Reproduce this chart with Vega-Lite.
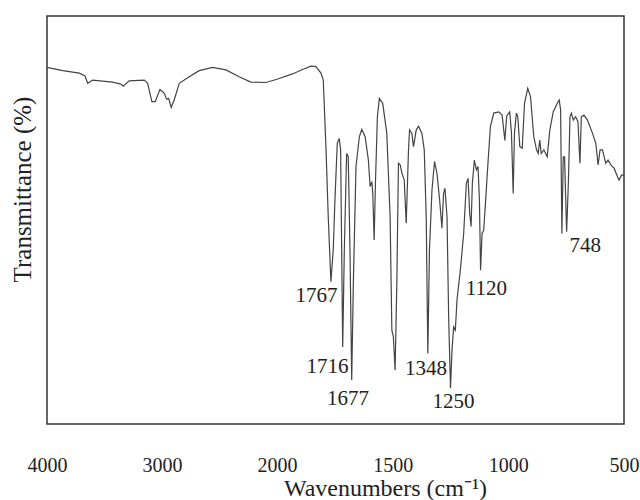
{
  "$schema": "https://vega.github.io/schema/vega-lite/v6.json",
  "width": 577,
  "height": 408,
  "autosize": {"type": "none"},
  "padding": {"left": 47, "top": 16, "right": 16, "bottom": 76},
  "background": "white",
  "config": {
    "view": {"stroke": "#333", "strokeWidth": 1.5},
    "font": "Liberation Serif"
  },
  "datasets": {
    "spectrum": [
      {"wn": 4000, "t": 87.4}, {"wn": 3864, "t": 86.6}, {"wn": 3719, "t": 86.0}, {"wn": 3670, "t": 85.3},
      {"wn": 3646, "t": 83.5}, {"wn": 3603, "t": 84.3}, {"wn": 3429, "t": 83.8}, {"wn": 3357, "t": 83.3},
      {"wn": 3337, "t": 82.8}, {"wn": 3285, "t": 84.1}, {"wn": 3154, "t": 84.3}, {"wn": 3125, "t": 83.5},
      {"wn": 3088, "t": 79.0}, {"wn": 3059, "t": 79.0}, {"wn": 3018, "t": 82.0}, {"wn": 2981, "t": 81.1},
      {"wn": 2960, "t": 79.6}, {"wn": 2942, "t": 79.8}, {"wn": 2920, "t": 77.6}, {"wn": 2894, "t": 79.4},
      {"wn": 2850, "t": 83.5}, {"wn": 2763, "t": 85.1}, {"wn": 2677, "t": 86.6}, {"wn": 2560, "t": 87.4},
      {"wn": 2444, "t": 86.8}, {"wn": 2329, "t": 85.1}, {"wn": 2227, "t": 83.8}, {"wn": 2097, "t": 83.7},
      {"wn": 2000, "t": 84.5}, {"wn": 1933, "t": 85.8}, {"wn": 1889.5, "t": 86.9}, {"wn": 1853.5, "t": 87.7},
      {"wn": 1832, "t": 87.6}, {"wn": 1810, "t": 86.0}, {"wn": 1800, "t": 84.3}, {"wn": 1788, "t": 67.2},
      {"wn": 1778.5, "t": 50.8}, {"wn": 1767, "t": 34.9}, {"wn": 1757, "t": 42.6}, {"wn": 1749.5, "t": 54.9},
      {"wn": 1739.5, "t": 68.8}, {"wn": 1731, "t": 70.0}, {"wn": 1725, "t": 67.2}, {"wn": 1716, "t": 18.9},
      {"wn": 1709, "t": 42.6}, {"wn": 1699, "t": 66.3}, {"wn": 1692, "t": 65.5}, {"wn": 1684.5, "t": 42.6},
      {"wn": 1677, "t": 10.8}, {"wn": 1670, "t": 34.5}, {"wn": 1658.5, "t": 63.1}, {"wn": 1644, "t": 70.4},
      {"wn": 1633.5, "t": 72.2}, {"wn": 1619, "t": 70.4}, {"wn": 1605, "t": 64.7}, {"wn": 1597.5, "t": 58.2},
      {"wn": 1590, "t": 59.4}, {"wn": 1586, "t": 56.5}, {"wn": 1580, "t": 45.1}, {"wn": 1574.5, "t": 59.0},
      {"wn": 1566, "t": 75.3}, {"wn": 1557.5, "t": 79.8}, {"wn": 1543, "t": 78.6}, {"wn": 1525.5, "t": 71.3},
      {"wn": 1511, "t": 50.8}, {"wn": 1503.5, "t": 23.0}, {"wn": 1497, "t": 21.4}, {"wn": 1489.5, "t": 13.2},
      {"wn": 1482, "t": 34.6}, {"wn": 1475, "t": 63.9}, {"wn": 1467.5, "t": 63.5}, {"wn": 1460, "t": 61.5},
      {"wn": 1450, "t": 59.8}, {"wn": 1441.5, "t": 49.2}, {"wn": 1431.5, "t": 67.2}, {"wn": 1427, "t": 72.1},
      {"wn": 1417, "t": 71.2}, {"wn": 1410, "t": 68.0}, {"wn": 1398, "t": 72.1}, {"wn": 1388, "t": 73.0},
      {"wn": 1373.5, "t": 71.2}, {"wn": 1363.5, "t": 67.2}, {"wn": 1355, "t": 50.8}, {"wn": 1348, "t": 17.3},
      {"wn": 1341, "t": 42.6}, {"wn": 1330, "t": 57.4}, {"wn": 1319, "t": 64.3}, {"wn": 1308.5, "t": 61.4},
      {"wn": 1297, "t": 54.9}, {"wn": 1287, "t": 48.0}, {"wn": 1280, "t": 56.5}, {"wn": 1274, "t": 57.8},
      {"wn": 1265, "t": 50.8}, {"wn": 1258, "t": 26.3}, {"wn": 1250, "t": 8.75}, {"wn": 1243.5, "t": 18.1},
      {"wn": 1236.5, "t": 23.8}, {"wn": 1229, "t": 23.0}, {"wn": 1222, "t": 30.4}, {"wn": 1207.5, "t": 37.7},
      {"wn": 1193, "t": 46.7}, {"wn": 1181.5, "t": 59.0}, {"wn": 1174, "t": 60.2}, {"wn": 1167, "t": 51.6},
      {"wn": 1161, "t": 48.4}, {"wn": 1155.5, "t": 59.0}, {"wn": 1147, "t": 64.7}, {"wn": 1138, "t": 62.3},
      {"wn": 1131, "t": 63.1}, {"wn": 1125, "t": 54.9}, {"wn": 1120, "t": 37.7}, {"wn": 1113.5, "t": 46.7},
      {"wn": 1106.5, "t": 47.5}, {"wn": 1098, "t": 54.9}, {"wn": 1089, "t": 63.1}, {"wn": 1077.5, "t": 72.9},
      {"wn": 1063, "t": 76.2}, {"wn": 1041, "t": 76.5}, {"wn": 1027, "t": 75.7}, {"wn": 1015, "t": 69.5},
      {"wn": 1007, "t": 75.5}, {"wn": 994, "t": 76.5}, {"wn": 986.5, "t": 71.3}, {"wn": 979, "t": 56.5},
      {"wn": 973.5, "t": 71.3}, {"wn": 965, "t": 76.2}, {"wn": 959, "t": 75.3}, {"wn": 950.5, "t": 68.0},
      {"wn": 940, "t": 67.6}, {"wn": 930, "t": 78.6}, {"wn": 916, "t": 82.3}, {"wn": 904, "t": 80.2},
      {"wn": 890, "t": 70.4}, {"wn": 878, "t": 67.2}, {"wn": 871, "t": 66.3}, {"wn": 864, "t": 69.6},
      {"wn": 858, "t": 66.3}, {"wn": 846.5, "t": 67.2}, {"wn": 832, "t": 65.5}, {"wn": 820.5, "t": 72.1},
      {"wn": 806, "t": 76.5}, {"wn": 788.5, "t": 78.6}, {"wn": 780, "t": 79.4}, {"wn": 774, "t": 77.0},
      {"wn": 768.5, "t": 46.7}, {"wn": 762.5, "t": 65.5}, {"wn": 757, "t": 65.5}, {"wn": 748, "t": 47.1},
      {"wn": 740.5, "t": 59.0}, {"wn": 733.5, "t": 75.3}, {"wn": 727.5, "t": 76.2}, {"wn": 719, "t": 74.5},
      {"wn": 709, "t": 75.3}, {"wn": 699, "t": 74.1}, {"wn": 690.5, "t": 63.9}, {"wn": 684.5, "t": 75.3},
      {"wn": 673, "t": 75.7}, {"wn": 658, "t": 74.5}, {"wn": 636.5, "t": 71.3}, {"wn": 622, "t": 68.8},
      {"wn": 612, "t": 63.5}, {"wn": 603.5, "t": 67.2}, {"wn": 593, "t": 67.2}, {"wn": 579, "t": 63.9},
      {"wn": 569, "t": 64.7}, {"wn": 557, "t": 63.5}, {"wn": 543, "t": 62.7}, {"wn": 528, "t": 60.6},
      {"wn": 521, "t": 59.8}, {"wn": 511, "t": 61.0}, {"wn": 500, "t": 61.0}
    ],
    "peaks": [
      {"wn": 1829, "t": 31.4, "label": "1767"},
      {"wn": 1782, "t": 14.0, "label": "1716"},
      {"wn": 1693, "t": 6.1, "label": "1677"},
      {"wn": 1356, "t": 13.5, "label": "1348"},
      {"wn": 1237, "t": 5.4, "label": "1250"},
      {"wn": 1095, "t": 33.1, "label": "1120"},
      {"wn": 667, "t": 43.6, "label": "748"}
    ],
    "ticks": [
      {"wn": 3000}, {"wn": 2000}, {"wn": 1500}, {"wn": 1000}
    ]
  },
  "encoding": {
    "x": {
      "field": "wn",
      "type": "quantitative",
      "scale": {"domain": [4000, 2000, 500], "range": [0, 230, 577], "nice": false, "zero": false},
      "axis": {
        "title": "Wavenumbers (cm⁻¹)",
        "values": [4000, 3000, 2000, 1500, 1000, 500],
        "format": "d",
        "grid": false,
        "domain": false,
        "ticks": false,
        "tickSize": 0,
        "labelFlush": false,
        "labelFont": "Liberation Serif",
        "labelFontSize": 20,
        "labelColor": "#222",
        "labelPadding": 31,
        "titleFont": "Liberation Serif",
        "titleFontSize": 24,
        "titleFontWeight": "normal",
        "titleColor": "#222",
        "titleX": 338,
        "titleY": 71,
        "titleBaseline": "alphabetic"
      }
    },
    "y": {
      "field": "t",
      "type": "quantitative",
      "scale": {"domain": [0, 100], "nice": false, "zero": false},
      "axis": {
        "title": "Transmittance (%)",
        "grid": false,
        "domain": false,
        "ticks": false,
        "labels": false,
        "titleFont": "Liberation Serif",
        "titleFontSize": 25,
        "titleFontWeight": "normal",
        "titleColor": "#222",
        "titleAngle": 270,
        "titleX": -25,
        "titleY": 173,
        "titleAlign": "center",
        "titleBaseline": "middle"
      }
    }
  },
  "layer": [
    {
      "data": {"name": "ticks"},
      "mark": {"type": "rule", "color": "#333", "strokeWidth": 1},
      "encoding": {"y": {"datum": 0}, "y2": {"datum": 1.3}}
    },
    {
      "data": {"name": "spectrum"},
      "mark": {"type": "line", "color": "#444", "strokeWidth": 1.2, "interpolate": "linear"}
    },
    {
      "data": {"name": "peaks"},
      "mark": {"type": "text", "font": "Liberation Serif", "fontSize": 21, "color": "#222", "align": "center", "baseline": "middle"},
      "encoding": {"text": {"field": "label", "type": "nominal"}}
    }
  ]
}
